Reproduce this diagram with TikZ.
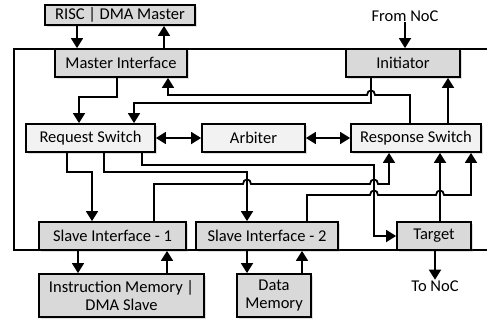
\documentclass[tikz,border=0pt]{standalone}
\usepackage{fontspec}
\setmainfont{Carlito}
\usepackage{tikz}
\usetikzlibrary{shadows}
\usetikzlibrary{arrows.meta}

\definecolor{boxgray}{RGB}{217,217,217}
\definecolor{boxlight}{RGB}{242,242,242}

\begin{document}
\begin{tikzpicture}[x=1pt, y=-1pt, >={Triangle[length=10pt,width=12pt]}, line width=1.8pt,
    box/.style={draw, fill=boxgray, inner sep=0pt, minimum height=28pt, align=center,
        font=\fontsize{16.5}{18.5}\selectfont,
        drop shadow={shadow xshift=2pt, shadow yshift=-2pt, opacity=0.25}},
    lightbox/.style={box, fill=boxlight},
    lbl/.style={font=\fontsize{16.5}{18.5}\selectfont, inner sep=0pt}]

    \useasboundingbox (0,0) rectangle (487,322);

    % outer frame
    \draw (487,49) -- (14,49) -- (14,250) -- (487,250);

    \node[box, minimum width=150pt, minimum height=20pt] (risc) at (120,15) {RISC | DMA Master};
    \node[box, minimum width=132pt] (mi) at (121,63) {Master Interface};
    \node[box, minimum width=114pt] (init) at (403,63) {Initiator};
    \node[lbl] (fromnoc) at (405,16) {From NoC};

    \node[lightbox, minimum width=129pt] (rqs) at (90.5,138) {Request Switch};
    \node[lightbox, minimum width=103pt] (arb) at (253.5,138) {Arbiter};
    \node[lightbox, minimum width=130pt] (rsp) at (416,138) {Response Switch};

    \node[box, minimum width=147pt] (si1) at (112.5,236) {Slave Interface - 1};
    \node[box, minimum width=142pt] (si2) at (267,236) {Slave Interface - 2};
    \node[box, minimum width=74pt] (tgt) at (434,236) {Target};
    \node[lbl] (tonoc) at (435,286) {To NoC};

    \node[box, minimum width=165pt, minimum height=43pt] (imem) at (121.5,295.5) {Instruction Memory |\\DMA Slave};
    \node[box, minimum width=74pt, minimum height=43pt] (dmem) at (274,295.5) {Data\\Memory};

    % master side
    \draw[->] (risc.south -| 77,0) -- (mi.north -| 77,0);
    \draw[->] (mi.north -| 164,0) -- (risc.south -| 164,0);
    \draw[->] (mi.south -| 117,0) |- (79,97) -- (rqs.north -| 79,0);
    \draw[->] (init.south -| 371,0) |- (134,103) -- (rqs.north -| 134,0);
    \draw[->] (rsp.north -| 410,0) |- (375,95)
        .. controls (375,89) and (367,89) .. (367,95) -| (mi.south -| 168,0);
    \draw[->] (rsp.north -| 448,0) -- (init.south -| 448,0);
    \draw[->] (fromnoc) -- (init.north -| 405,0);

    % switches
    \draw[<->] (rqs.east) -- (arb.west);
    \draw[<->] (arb.east) -- (rsp.west);

    % request paths
    \draw[->] (rqs.south -| 67,0) |- (92,172) -- (si1.north -| 92,0);
    \draw[->] (rqs.south -| 104,0) |- (247,172) -- (si2.north -| 247,0);
    \draw[->] (rqs.south -| 142,0) |- (374,165) |- (tgt.west);

    % response paths
    \draw[->] (si1.north -| 154,0) |- (243,184)
        .. controls (243,178) and (251,178) .. (251,184) -- (370,184)
        .. controls (370,178) and (378,178) .. (378,184) -| (rsp.south -| 389,0);
    \draw[->] (si2.north -| 307,0) |- (370,195)
        .. controls (370,189) and (378,189) .. (378,195) -- (436,195)
        .. controls (436,189) and (444,189) .. (444,195) -| (rsp.south -| 471,0);
    \draw[->] (tgt.north -| 440,0) -- (rsp.south -| 440,0);
    \draw[->] (tgt.south -| 435,0) -- (tonoc.north);

    % memories
    \draw[->] (si1.south -| 78,0) -- (imem.north -| 78,0);
    \draw[->] (imem.north -| 167,0) -- (si1.south -| 167,0);
    \draw[->] (si2.south -| 247,0) -- (dmem.north -| 247,0);
    \draw[->] (dmem.north -| 302,0) -- (si2.south -| 302,0);

\end{tikzpicture}
\end{document}
